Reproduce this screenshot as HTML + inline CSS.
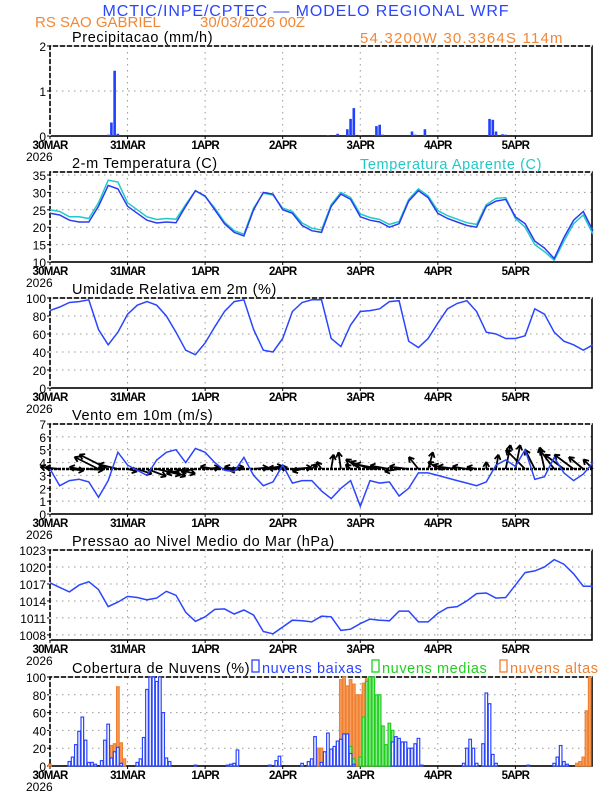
<!DOCTYPE html>
<html><head><meta charset="utf-8"><style>
html,body{margin:0;padding:0;background:#fff;}
svg{display:block;font-family:"Liberation Sans",sans-serif;}
</style></head><body>
<svg id="chart" width="612" height="792" viewBox="0 0 612 792" xmlns="http://www.w3.org/2000/svg">
<text x="306" y="16" text-anchor="middle" font-size="16" fill="#2a45ff" letter-spacing="0.9">MCTIC/INPE/CPTEC — MODELO REGIONAL WRF</text>
<text x="35" y="27" font-size="15" fill="#f08838">RS SAO GABRIEL</text>
<text x="200" y="27" font-size="15" fill="#f08838">30/03/2026 00Z</text>
<text x="360" y="43" font-size="15" fill="#f08838" letter-spacing="1.2">54.3200W 30.3364S 114m</text>
<g id="g"></g>
</svg>
<script>
// ---- data (hourly index, 3-hourly series) ----
const hours3 = [0,3,6,9,12,15,18,21,24,27,30,33,36,39,42,45,48,51,54,57,60,63,66,69,72,75,78,81,84,87,90,93,96,99,102,105,108,111,114,117,120,123,126,129,132,135,138,141,144,147,150,153,156,159,162,165,168];
const dayLabels = ["30MAR","31MAR","1APR","2APR","3APR","4APR","5APR"];
const temp = [24,23.5,22,21.5,21.5,26,32,31,26,24,22,21.2,21.5,21.3,26,30.5,29,25,21,18.5,17.5,25,30,29.5,25,24,20.5,19,18.5,26,29.5,28,23,22,21.5,20,21,27.5,30.5,28.5,24,22.5,21.5,20.5,20,26,27.5,28,23,21,16,14,11,17,22,24.5,19];
const tempAp = [25,24.5,23,23,22.5,27,33.5,33,27,25,23,22.2,22.5,22.3,26.5,30.5,28.8,25.5,21.5,19,18,25.5,29.8,29.2,25.5,24.5,21.2,19.7,19.2,26.5,30,28.5,23.8,22.8,22.2,20.8,21.6,28,31,29,24.8,23.3,22.3,21.3,20.8,26.5,28.3,28.5,22.5,20,15,13,10.5,16,21,23.5,18];
const rh = [86,90,95,96,98,65,48,62,82,92,96,92,80,62,42,37,50,68,85,96,98,65,42,40,55,85,95,98,98,55,46,70,85,86,88,96,97,52,45,55,72,88,94,97,85,62,60,55,55,58,88,82,62,52,48,42,48];
const windSpd = [3.5,2.2,2.6,2.7,2.5,1.3,2.6,4.8,3.8,3.4,3.0,4.2,4.8,5.0,4.0,5.1,4.8,4.0,3.4,3.3,4.4,3.0,2.2,2.5,3.8,2.4,2.6,2.6,1.8,1.2,2.0,2.6,0.6,2.6,2.4,2.5,1.4,2.0,3.2,3.2,3.0,2.8,2.6,2.4,2.2,2.5,3.8,4.2,3.7,5.0,2.7,2.9,4.4,3.2,2.6,3.1,4.0];
const windU = [-2,-3,3,-2,3,-5,-6,-4,2,3,4,5,4,4,-4,-3,3,-3,4,-2,-3,3,4,3,-3,4,-2,1,-1,0.5,-0.5,-1,-3,-4,-5,-4,-3,-4,-2,1,-2,-3,-4,-3,-2,0,0.5,1,1,-4,-2,-1,-3,-4,-4,-3,-2];
const windV = [0.5,0.3,-0.3,0.4,-0.2,2.5,3,1,-0.5,-1,-1.5,-1.2,-1.5,-1,-1,-0.5,0.3,0.5,0.4,0.5,-0.3,0.3,0.6,0.3,0.2,0.3,-0.5,1,1.5,3,3.5,1,2,1.5,1,0.7,-0.5,0.5,2.5,3.5,1.5,0.8,0.5,0.5,0.4,1.5,3,5,5,4,4,4.5,4,3,3,2.5,2];
const pres = [1017.2,1016.4,1015.6,1016.8,1017.4,1016.0,1013.0,1013.8,1014.8,1014.6,1014.2,1014.5,1015.7,1015,1012,1010.4,1011.2,1012.5,1012.6,1011.7,1012.4,1011.5,1008.6,1008.2,1009.4,1010.6,1010.5,1010.3,1011.3,1011.2,1008.8,1009.0,1010,1010.8,1010.6,1010.5,1012.2,1012.2,1010.3,1010.3,1011.8,1012.8,1013.0,1014,1015.3,1015.4,1014.5,1014.6,1016.8,1019,1019.3,1020,1021.3,1020.5,1018.8,1016.6,1016.6];
const precipH = [18,19,20,21,86,89,92,93,94,96,101,102,103,112,113,116,136,137,138,140,141];
const precipV = [0.03,0.3,1.45,0.05,0.02,0.05,0.15,0.38,0.62,0.02,0.22,0.25,0.03,0.1,0.03,0.15,0.38,0.36,0.1,0.04,0.03];
const lowH = [6,7,8,9,10,11,12,13,14,16,17,18,19,20,21,22,27,28,29,30,31,32,33,34,35,36,37,45,55,56,57,58,68,70,71,78,80,81,82,84,85,86,87,88,89,90,91,92,93,94,106,107,108,109,110,111,112,113,114,115,128,129,130,131,132,134,135,136,137,138,148,156,157,158,159,160];
const lowV = [5,10,24,39,55,29,4,4,2,6,29,47,9,16,21,3,4,8,32,86,100,100,95,100,60,9,5,1,1,2,3,18,1,6,11,3,5,8,33,4,16,37,19,22,28,30,36,36,14,2,27,33,31,27,27,20,20,25,31,1,3,20,30,20,3,25,82,70,13,3,1,3,10,23,5,2];
const midH = [93,94,96,97,98,99,100,101,102,103,104,105,106,107];
const midV = [22,8,10,55,95,100,100,80,80,45,24,48,40,18];
const highH = [0,18,19,20,21,22,23,83,84,89,90,91,92,93,94,95,96,97,98,99,100,101,163,164,165,166,167];
const highV = [2,8,23,25,89,26,8,20,20,28,97,100,90,97,92,80,80,93,98,98,98,60,3,5,10,62,100];

// ---- layout ----
const X0=50, X1=592;
const xS = h => X0 + h*(X1-X0)/167.7;
const NS="http://www.w3.org/2000/svg";
const G=document.getElementById('g');
function mk(tag, attrs, parent){const e=document.createElementNS(NS,tag);for(const k in attrs)e.setAttribute(k,attrs[k]);(parent||G).appendChild(e);return e;}
function yScale(top,bot,min,max){return v=>bot-(v-min)*(bot-top)/(max-min);}

function panel(name,title,top,bot,min,max,ticks){
  const g=mk('g',{});
  
  
  const y=yScale(top,bot,min,max);
  ticks.forEach(t=>{
    if(t>min&&t<max){const l=mk('line',{x1:X0,x2:X1,y1:y(t),y2:y(t),stroke:'#999','stroke-width':1,'stroke-dasharray':'1.5,4.5'},g);
    
    }
    const tl=mk('text',{x:X0-4,y:y(t)+5,'text-anchor':'end','font-size':12},g);
    tl.textContent=t;
    
    
    mk('line',{x1:X0-3,x2:X0,y1:y(t),y2:y(t),stroke:'#000'},g);
  });
  for(let d=1;d<7;d++){const l=mk('line',{x1:xS(d*24),x2:xS(d*24),y1:top,y2:bot,stroke:'#999','stroke-width':1,'stroke-dasharray':'1.5,4.5'},g);
    
    }
  dayLabels.forEach((lab,d)=>{
    const t=mk('text',{x:xS(d*24),y:bot+13,'text-anchor':'middle','font-size':11.5,'font-weight':'bold','letter-spacing':'-0.8'},g);
    t.textContent=lab;
    
    
    mk('line',{x1:xS(d*24),x2:xS(d*24),y1:bot,y2:bot+3,stroke:'#000'},g);
  });
  const yr=mk('text',{x:X0-24,y:bot+25,'font-size':12},g);
  yr.textContent='2026';
  
  
  const tt=mk('text',{x:72,y:top-4,'font-size':14.5,'letter-spacing':'0.6'},g);
  tt.textContent=title;
  
  
  const fr=mk('rect',{x:X0,y:top,width:X1-X0,height:bot-top,fill:'none',stroke:'#000','stroke-width':1.6},g);
  
  
  mk('path',{d:`M${X0},${bot} L${X0},${top} L${X1},${top}`,fill:'none',stroke:'#fff','stroke-width':1.6,'stroke-dasharray':'2,5'},g);
  return {g,y};
}
function line(p,xs,vals,color,name){
  const d=vals.map((v,i)=>(i?'L':'M')+xS(xs[i]).toFixed(1)+','+p.y(v).toFixed(1)).join(' ');
  const e=mk('path',{d,fill:'none',stroke:color,'stroke-width':1.5},p.g);
  
  
}
function bars(p,hs,vals,fill,stroke,name,w){
  hs.forEach((h,i)=>{
    const y0=p.y(0), y1=p.y(vals[i]);
    const r=mk('rect',{x:xS(h)-w/2,y:y1,width:w,height:Math.max(0.5,y0-y1),fill,stroke,'stroke-width':stroke==='none'?0:1.2},p.g);
    
    
  });
}

const p1=panel('precip-panel','Precipitacao (mm/h)',46,136,0,2,[0,1,2]);
bars(p1,precipH,precipV,'#2040ff','none','precip-bar',2.6);

const p2=panel('temp-panel','2-m Temperatura (C)',172,262,10,35.86,[10,15,20,25,30,35]);
line(p2,hours3,tempAp,'#22c8c8','apparent-temp-line');
line(p2,hours3,temp,'#2a3cf0','temp-line');
const apl=mk('text',{x:360,y:169,'font-size':14.5,fill:'#22c8c8','letter-spacing':'0.6'},p2.g);
apl.textContent='Temperatura Aparente (C)';



const p3=panel('rh-panel','Umidade Relativa em 2m (%)',298,388,0,100,[0,20,40,60,80,100]);
line(p3,hours3,rh,'#2a45ff','rh-line');

const p4=panel('wind-panel','Vento em 10m (m/s)',424,514,0,7,[0,1,2,3,4,5,6,7]);
const yb=p4.y(3.5);
hours3.forEach((h,i)=>{
  const x=xS(h), dx=windU[i]*4.8, dy=-windV[i]*4.8;
  const L=Math.hypot(dx,dy)||1, ux=dx/L, uy=dy/L, hx=x+dx, hy=yb+dy;
  const a=mk('path',{d:`M${x},${yb} L${hx},${hy} M${hx},${hy} L${hx-5*ux+3*uy},${hy-5*uy-3*ux} M${hx},${hy} L${hx-5*ux-3*uy},${hy-5*uy+3*ux}`,stroke:'#000','stroke-width':1.8,fill:'none'},p4.g);
  
  
});
mk('line',{x1:X0,x2:X1,y1:yb,y2:yb,stroke:'#000','stroke-width':2.5,'stroke-dasharray':'3,1'},p4.g);
line(p4,hours3,windSpd,'#2a45ff','wind-speed-line');

const p5=panel('pressure-panel','Pressao ao Nivel Medio do Mar (hPa)',550,640,1007.1,1023,[1008,1011,1014,1017,1020,1023]);
line(p5,hours3,pres,'#2a45ff','pressure-line');

const p6=panel('cloud-panel','Cobertura de Nuvens (%)',677,766,0,100,[0,20,40,60,80,100]);
bars(p6,highH,highV,'#f5a060','#f08030','cloud-high-bar',2.6);
bars(p6,midH,midV,'#90e890','#20d020','cloud-mid-bar',2.6);
bars(p6,lowH,lowV,'#ffffff','#2a45ff','cloud-low-bar',2.6);
const legs=[['nuvens baixas','#2a45ff',252],['nuvens medias','#20d020',372],['nuvens altas','#f08030',500]];
legs.forEach(l=>{
  const r=mk('rect',{x:l[2],y:660,width:7,height:12,fill:'none',stroke:l[1],'stroke-width':1.3},p6.g);
  
  
  const t=mk('text',{x:l[2]+10,y:673,'font-size':14.5,fill:l[1],'letter-spacing':'0.6'},p6.g);
  t.textContent=l[0];
  
  
});
</script>
</body></html>
